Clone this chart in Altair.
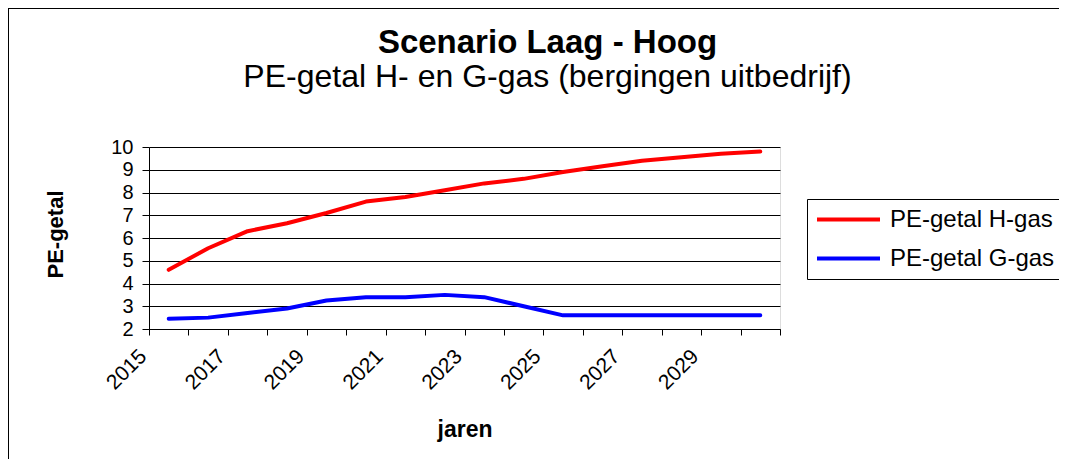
import altair as alt
import pandas as pd

years = list(range(2015, 2031))
h_gas = [4.6, 5.55, 6.3, 6.65, 7.1, 7.6, 7.8, 8.1, 8.4, 8.6, 8.9, 9.15, 9.4, 9.55, 9.7, 9.8]
g_gas = [2.45, 2.5, 2.7, 2.9, 3.25, 3.4, 3.4, 3.5, 3.4, 3.0, 2.6, 2.6, 2.6, 2.6, 2.6, 2.6]
series_names = ["PE-getal H-gas", "PE-getal G-gas"]
series_colors = ["#FF0000", "#0000FF"]
x_tick_labels = ["2015", "2017", "2019", "2021", "2023", "2025", "2027", "2029"]
y_ticks = [2, 3, 4, 5, 6, 7, 8, 9, 10]

df = pd.DataFrame(
    {"jaar": years * 2,
     "waarde": h_gas + g_gas,
     "reeks": [series_names[0]] * len(years) + [series_names[1]] * len(years)}
)

FONT = "Liberation Sans"
label_list = "[" + ",".join("'" + t + "'" for t in x_tick_labels) + "]"
label_expr = ("indexof(" + label_list + ", format(datum.value + 0.5, 'd')) >= 0"
              " ? format(datum.value + 0.5, 'd') : ''")

lines = alt.Chart(df).mark_line(strokeWidth=4, strokeCap="round", strokeJoin="round").encode(
    x=alt.X("jaar:Q",
            scale=alt.Scale(domain=[years[0] - 0.5, years[-1] + 0.5], nice=False, zero=False),
            axis=alt.Axis(values=[y - 0.5 for y in years] + [years[-1] + 0.5],
                          labelExpr=label_expr, labelAngle=315, labelAlign="right",
                          labelBaseline="middle", labelOffset=-6, labelPadding=18,
                          labelFontSize=21, labelFont=FONT, labelColor="black",
                          labelOverlap=False, labelBound=False, labelFlush=False,
                          tickSize=6, tickColor="black", domainColor="black",
                          grid=False, title="jaren", titleFont=FONT, titleFontSize=23,
                          titleFontWeight="bold", titleColor="black",
                          titleX=315.5, titleY=107, titleBaseline="alphabetic")),
    y=alt.Y("waarde:Q",
            scale=alt.Scale(domain=[2, 10], nice=False, zero=False),
            axis=alt.Axis(values=y_ticks, labelFontSize=20, labelFont=FONT, labelColor="black",
                          labelPadding=9, tickSize=7, tickColor="black", domainColor="black",
                          grid=True, gridColor="black", gridWidth=1,
                          title="PE-getal", titleFont=FONT, titleFontSize=22,
                          titleFontWeight="bold", titleColor="black",
                          titleX=-94, titleY=87, titleAngle=270,
                          titleAlign="center", titleBaseline="middle")),
    color=alt.Color("reeks:N",
                    scale=alt.Scale(domain=series_names, range=series_colors),
                    legend=alt.Legend(title=None, orient="none", legendX=658, legendY=52,
                                      direction="vertical", padding=8, strokeColor="black",
                                      fillColor="white", cornerRadius=0,
                                      symbolType="M-1,0H5", symbolSize=441,
                                      symbolStrokeWidth=4, symbolFillColor="transparent",
                                      labelOffset=50, rowPadding=14,
                                      labelFont=FONT, labelFontSize=24, labelColor="black",
                                      labelLimit=400)),
)

frame_df = pd.DataFrame({"k": [0]})
frame_left = alt.Chart(frame_df).mark_rule(color="black", strokeWidth=2).encode(
    x=alt.value(-141), y=alt.value(-139), y2=alt.value(312))
frame_top = alt.Chart(frame_df).mark_rule(color="black", strokeWidth=2).encode(
    x=alt.value(-141), x2=alt.value(910), y=alt.value(-139))

chart = alt.layer(lines, frame_left, frame_top).properties(
    width=631, height=182,
    autosize=alt.AutoSizeParams(type="none"),
    padding={"left": 141, "top": 139, "right": 279, "bottom": 130},
    title=alt.TitleParams(text="Scenario Laag - Hoog",
                          subtitle="PE-getal H- en G-gas (bergingen uitbedrijf)",
                          anchor="middle", frame="group", font=FONT, fontSize=33,
                          fontWeight="bold", color="black", subtitleFont=FONT,
                          subtitleFontSize=32, subtitleColor="black", subtitlePadding=2,
                          offset=-86, dx=83),
).configure_view(fill="#C0C0C0", stroke="#808080", strokeWidth=1.5).configure(
    background="white")

chart.save("out.html", embed_options={"renderer": "svg", "actions": False})
